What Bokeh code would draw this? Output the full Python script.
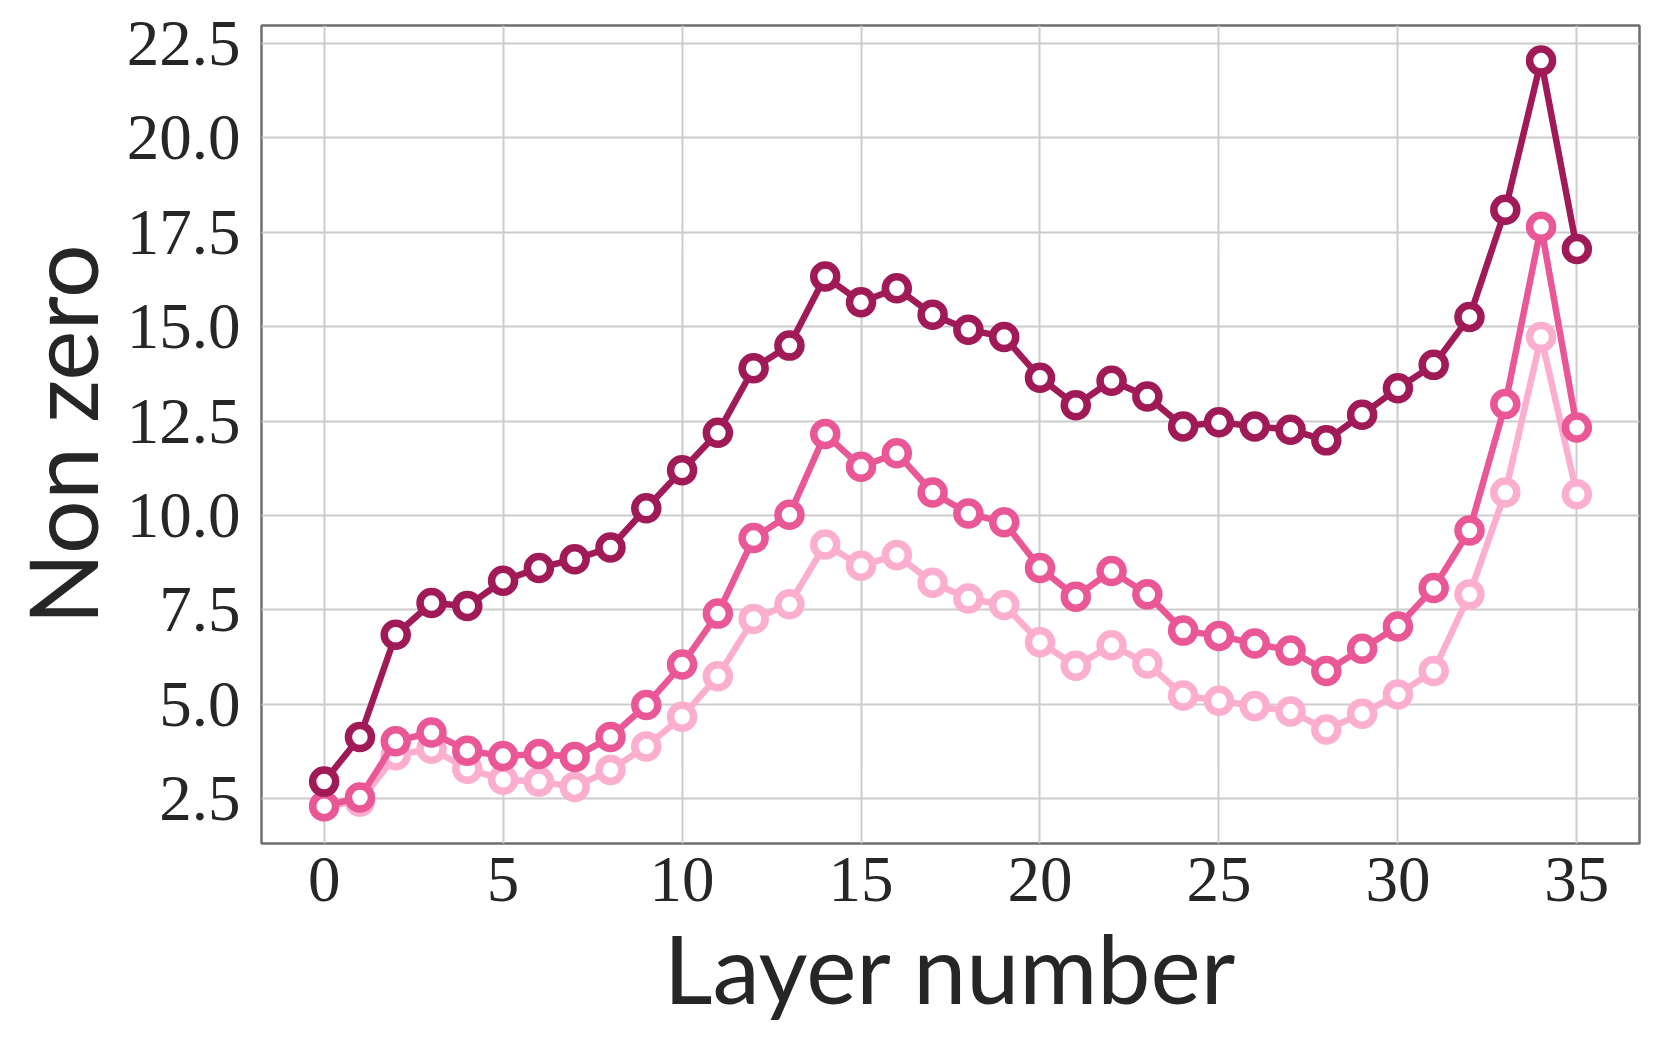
from bokeh.plotting import figure
from bokeh.models import Range1d, FixedTicker
from bokeh.embed import file_html
from bokeh.resources import INLINE

layers = list(range(36))
dark = [2.95, 4.13, 6.84, 7.68, 7.6, 8.27, 8.61, 8.84, 9.15, 10.19, 11.2, 12.19,
        13.9, 14.5, 16.33, 15.65, 16.02, 15.32, 14.92, 14.73, 13.65, 12.92, 13.57,
        13.15, 12.36, 12.47, 12.36, 12.27, 11.99, 12.67, 13.37, 13.99, 15.26, 18.1,
        22.05, 17.06]
medium = [2.3, 2.53, 4.02, 4.25, 3.77, 3.63, 3.68, 3.6, 4.13, 4.98, 6.05, 7.4,
          9.4, 10.02, 12.16, 11.29, 11.65, 10.61, 10.05, 9.82, 8.61, 7.85, 8.53,
          7.91, 6.95, 6.81, 6.61, 6.42, 5.88, 6.47, 7.06, 8.08, 9.6, 12.95, 17.65,
          12.33]
light = [2.3, 2.42, 3.65, 3.82, 3.29, 3.0, 2.95, 2.81, 3.26, 3.88, 4.67, 5.74,
         7.26, 7.65, 9.23, 8.67, 8.95, 8.22, 7.8, 7.63, 6.64, 6.02, 6.56, 6.08,
         5.23, 5.09, 4.95, 4.81, 4.33, 4.75, 5.26, 5.88, 7.91, 10.61, 14.73, 10.56]

x_ticks = [0, 5, 10, 15, 20, 25, 30, 35]
y_ticks = [2.5, 5.0, 7.5, 10.0, 12.5, 15.0, 17.5, 20.0, 22.5]
y_tick_labels = {t: f"{t:.1f}" for t in y_ticks}

series = [(light, "#fcaecf"), (medium, "#ea5797"), (dark, "#a01a58")]

p = figure(width=1650, height=1043, output_backend="svg", toolbar_location=None,
           x_range=Range1d(-1.75, 36.75), y_range=Range1d(1.31, 22.98),
           min_border_left=259, min_border_right=11, min_border_top=25,
           min_border_bottom=200)

for ys, c in series:
    p.line(layers, ys, line_color=c, line_width=6.5)
    p.scatter(layers, ys, marker="circle", size=23, fill_color="white",
              line_color=c, line_width=7.5)

p.outline_line_color = "#6e6e6e"
p.outline_line_width = 2.5
p.background_fill_color = "white"
p.border_fill_color = "white"

for g in (p.xgrid, p.ygrid):
    g.grid_line_color = "#cccccc"
    g.grid_line_width = 2

p.xaxis.ticker = FixedTicker(ticks=x_ticks)
p.yaxis.ticker = FixedTicker(ticks=y_ticks)
p.yaxis.major_label_overrides = y_tick_labels

for ax in (p.xaxis, p.yaxis):
    ax.axis_line_color = None
    ax.major_tick_line_color = None
    ax.minor_tick_line_color = None
    ax.major_tick_out = 0
    ax.major_tick_in = 0
    ax.minor_tick_out = 0
    ax.major_label_text_font = "Liberation Serif"
    ax.major_label_text_font_size = "65px"
    ax.major_label_text_color = "#262626"
    ax.axis_label_text_font = "Lato"
    ax.axis_label_text_font_size = "95px"
    ax.axis_label_text_font_style = "normal"
    ax.axis_label_text_color = "#262626"

p.xaxis.major_label_standoff = 14
p.yaxis.major_label_standoff = 21
p.xaxis.axis_label = "Layer number"
p.yaxis.axis_label = "Non zero"
p.xaxis.axis_label_standoff = 6
p.yaxis.axis_label_standoff = 6

open("out.html", "w").write(file_html(p, INLINE))
